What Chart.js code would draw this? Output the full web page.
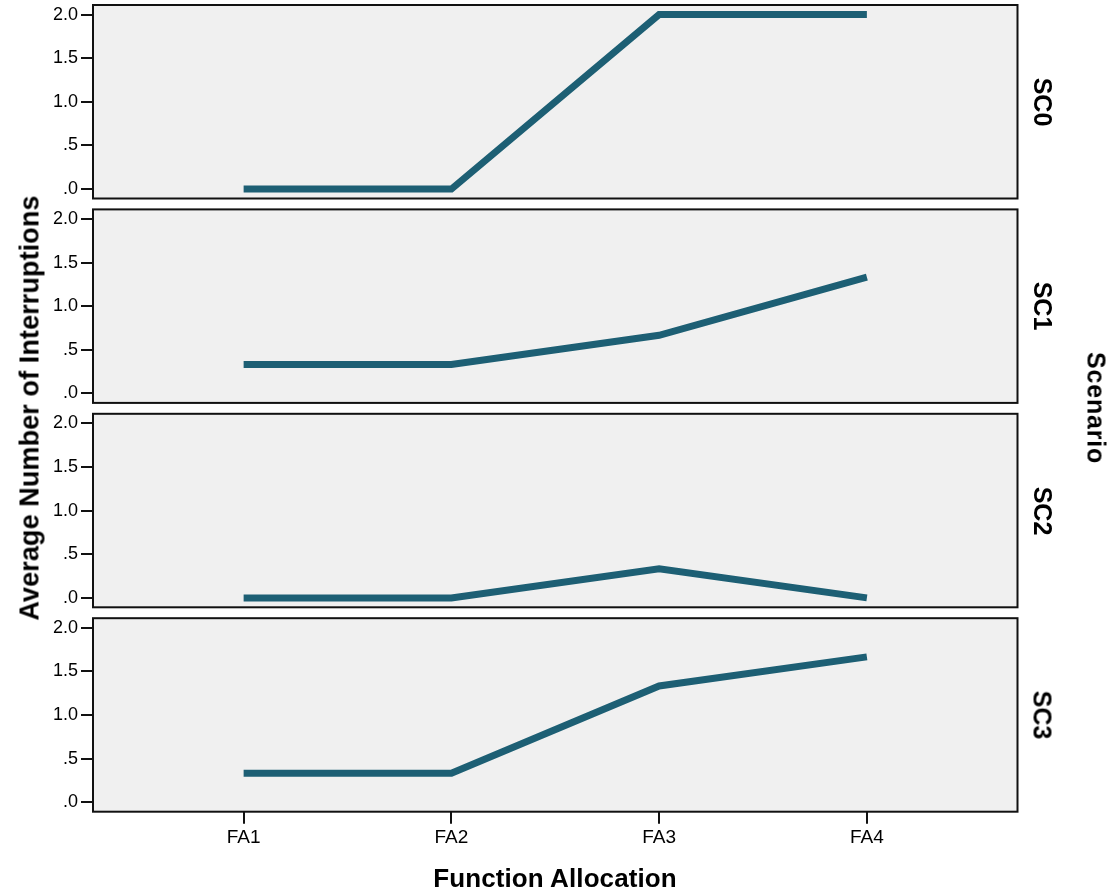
<!DOCTYPE html>
<html>
<head>
<meta charset="utf-8">
<title>Average Number of Interruptions by Function Allocation</title>
<script src="https://cdn.jsdelivr.net/npm/chart.js@4/dist/chart.umd.min.js"></script>
<style>
  html, body { margin: 0; padding: 0; background: #ffffff; }
  #wrap { position: relative; width: 1112px; height: 894px; overflow: hidden;
          font-family: "Liberation Sans", Arial, Helvetica, sans-serif; color: #000; }
  #wrap canvas { position: absolute; left: 0; top: 0; }
  .lbl { position: absolute; white-space: nowrap; font-weight: bold;
         transform-origin: 50% 50%; line-height: 1; }
</style>
</head>
<body>
<div id="wrap"></div>
<script>
// Data
const categories = ['FA1', 'FA2', 'FA3', 'FA4'];
const scenarios = ['SC0', 'SC1', 'SC2', 'SC3'];
const sc0 = [0, 0, 2, 2];
const sc1 = [0.333, 0.333, 0.667, 1.333];
const sc2 = [0, 0, 0.333, 0];
const sc3 = [0.333, 0.333, 1.333, 1.667];
const seriesByScenario = [sc0, sc1, sc2, sc3];
const yTickValues = [0, 0.5, 1, 1.5, 2];
const yTickLabels = ['.0', '.5', '1.0', '1.5', '2.0'];

const yTitle = 'Average Number of Interruptions';
const xTitle = 'Function Allocation';
const facetTitle = 'Scenario';

// Layout
const W = 1112, H = 894;
const FONT = '"Liberation Sans", Arial, Helvetica, sans-serif';
const LINE_COLOR = 'rgb(29,95,116)';
const PANEL_FILL = '#f0f0f0';
const plotLeft = 93, plotRight = 1017.5;
const panelTop0 = 5, panelPitch = 204.4, panelHeight = 193.5;

const wrap = document.getElementById('wrap');

// Panel background and frame
const framePlugin = {
  id: 'panelFrame',
  beforeDraw(chart) {
    const a = chart.chartArea, ctx = chart.ctx;
    ctx.save();
    ctx.fillStyle = PANEL_FILL;
    ctx.fillRect(a.left, a.top, a.right - a.left, a.bottom - a.top);
    ctx.restore();
  },
  afterDraw(chart) {
    const a = chart.chartArea, ctx = chart.ctx;
    ctx.save();
    ctx.strokeStyle = '#111';
    ctx.lineWidth = 2;
    ctx.strokeRect(a.left, a.top, a.right - a.left, a.bottom - a.top);
    ctx.restore();
  }
};

scenarios.forEach((sc, i) => {
  const top = panelTop0 + i * panelPitch;
  const bottom = top + panelHeight;
  const isLast = i === scenarios.length - 1;

  const canvas = document.createElement('canvas');
  canvas.width = W; canvas.height = H;
  canvas.style.width = W + 'px'; canvas.style.height = H + 'px';
  wrap.appendChild(canvas);

  new Chart(canvas, {
    type: 'line',
    data: {
      datasets: [{
        label: sc,
        data: seriesByScenario[i].map((v, k) => ({ x: k, y: v })),
        borderColor: LINE_COLOR,
        borderWidth: 7,
        borderCapStyle: 'butt',
        borderJoinStyle: 'miter',
        pointRadius: 0,
        tension: 0,
        fill: false
      }]
    },
    options: {
      responsive: false,
      animation: false,
      devicePixelRatio: 1,
      layout: {
        padding: {
          left: 0,
          right: W - plotRight,
          top: top,
          bottom: isLast ? 0 : H - bottom
        }
      },
      plugins: {
        legend: { display: false },
        tooltip: { enabled: false },
        title: { display: false }
      },
      scales: {
        x: {
          type: 'linear',
          display: isLast,
          min: -0.725,
          max: 3.725,
          afterBuildTicks(scale) {
            scale.ticks = categories.map((c, k) => ({ value: k }));
          },
          afterFit(scale) {
            if (isLast) scale.height = H - bottom;
            scale.paddingLeft = 0; scale.paddingRight = 0;
          },
          ticks: {
            autoSkip: false,
            maxRotation: 0,
            padding: 3,
            color: '#000',
            font: { family: FONT, size: 19 },
            callback: (v) => categories[v]
          },
          grid: {
            drawOnChartArea: false,
            drawTicks: true,
            tickLength: 12,
            color: '#111',
            lineWidth: 2
          },
          border: { display: false }
        },
        y: {
          type: 'linear',
          min: -0.108,
          max: 2.11,
          afterBuildTicks(scale) {
            scale.ticks = yTickValues.map(v => ({ value: v }));
          },
          afterFit(scale) {
            scale.width = plotLeft;
            scale.paddingTop = 0; scale.paddingBottom = 0;
          },
          ticks: {
            autoSkip: false,
            padding: 3,
            color: '#000',
            font: { family: FONT, size: 18 },
            callback: (v) => yTickLabels[yTickValues.indexOf(v)]
          },
          grid: {
            drawOnChartArea: false,
            drawTicks: true,
            tickLength: 12,
            color: '#111',
            lineWidth: 2
          },
          border: { display: false }
        }
      }
    },
    plugins: [framePlugin]
  });

  // Scenario label beside each panel
  const lab = document.createElement('div');
  lab.className = 'lbl';
  lab.textContent = sc;
  lab.style.fontSize = '25px';
  lab.style.left = '1042px';
  lab.style.top = ((top + bottom) / 2) + 'px';
  lab.style.transform = 'translate(-50%, -50%) rotate(90deg)';
  wrap.appendChild(lab);
});

// Axis titles
function addTitle(text, cx, cy, size, rot, spacing) {
  const d = document.createElement('div');
  d.className = 'lbl';
  d.textContent = text;
  d.style.fontSize = size + 'px';
  d.style.letterSpacing = spacing + 'px';
  d.style.left = cx + 'px';
  d.style.top = cy + 'px';
  d.style.transform = 'translate(-50%, -50%) rotate(' + rot + 'deg)';
  wrap.appendChild(d);
}
addTitle(yTitle, 30, 408, 27, -90, 0.1);
addTitle(xTitle, 555, 878, 26, 0, 0.1);
addTitle(facetTitle, 1096, 408, 25, 90, 0.8);
</script>
</body>
</html>
